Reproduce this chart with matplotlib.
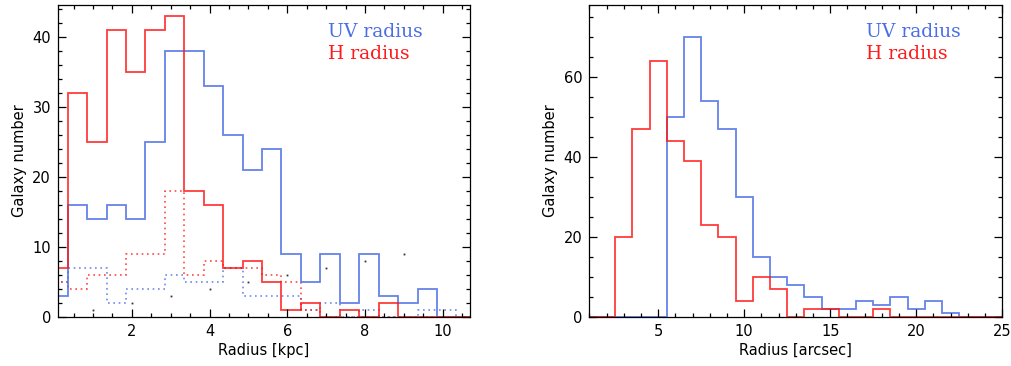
import numpy as np
import matplotlib
matplotlib.use("Agg")
import matplotlib.pyplot as plt
from matplotlib.ticker import MultipleLocator

# ---------------- data ----------------
# left panel: bins of 0.5 kpc, first bin starts at -0.15
kpc_bin_start = -0.15
kpc_bin_width = 0.5
h_kpc = [7, 32, 25, 41, 35, 41, 43, 18, 16, 7, 8, 5, 1, 2, 0, 1, 0, 2, 0, 0, 0, 0]
uv_kpc = [3, 16, 14, 16, 14, 25, 38, 38, 33, 26, 21, 24, 9, 5, 9, 2, 9, 3, 2, 4, 0, 0]
h_kpc_sub = [5, 4, 6, 6, 9, 9, 18, 6, 8, 7, 7, 6, 5, 1, 0, 0, 0, 0, 0, 0, 0, 0]
uv_kpc_sub = [5, 7, 7, 2, 4, 4, 6, 5, 5, 7, 3, 3, 3, 1, 2, 0, 1, 0, 0, 1, 1, 0]
dot_x = [1, 2, 3, 4, 5, 6, 7, 8, 9]
dot_y = [1, 2, 3, 4, 5, 6, 7, 8, 9]

# right panel: bins of 1 arcsec, first bin starts at 0.5
arc_bin_start = 0.5
arc_bin_width = 1.0
h_arc = [0, 0, 20, 47, 64, 44, 39, 23, 20, 4, 10, 7, 0, 2, 2, 0, 0, 2,
         0, 0, 0, 0, 0, 0, 0]
uv_arc = [0, 0, 0, 0, 0, 50, 70, 54, 47, 30, 15, 10, 8, 5, 2, 2, 4, 3,
          5, 2, 4, 1, 0, 0, 0]

legend_labels = ["UV radius", "H radius"]

BLUE = "#4a6ee6"
RED = "#ff1a1a"


def edges(start, width, n):
    return start + width * np.arange(n + 1)


fig = plt.figure(figsize=(10.11, 3.66), dpi=100)
ax1 = fig.add_axes([58 / 1011, 1 - 317 / 366, 412 / 1011, 312 / 366])
ax2 = fig.add_axes([589.3 / 1011, 1 - 317 / 366, 413 / 1011, 312 / 366])

# ---- left panel ----
e = edges(kpc_bin_start, kpc_bin_width, len(h_kpc))
ls_dot = (0, (1, 2.2))
ax1.stairs(uv_kpc_sub, e, color=BLUE, lw=1.2, ls=ls_dot, alpha=0.8)
ax1.stairs(h_kpc_sub, e, color=RED, lw=1.2, ls=ls_dot, alpha=0.8)
ax1.stairs(uv_kpc, e, color=BLUE, lw=1.3, alpha=0.85)
ax1.stairs(h_kpc, e, color=RED, lw=1.3, alpha=0.85)
ax1.plot(dot_x, dot_y, ls="none", marker="s", ms=1.3, color="#333333", mew=0)
ax1.set_xlim(0.1, 10.7)
ax1.set_ylim(0, 44.5)
ax1.xaxis.set_major_locator(MultipleLocator(2))
ax1.xaxis.set_minor_locator(MultipleLocator(0.5))
ax1.yaxis.set_major_locator(MultipleLocator(10))
ax1.yaxis.set_minor_locator(MultipleLocator(2))
ax1.set_xlabel("Radius [kpc]", fontsize=10.5, labelpad=3)
ax1.set_ylabel("Galaxy number", fontsize=10.5, labelpad=4)

# ---- right panel ----
e2 = edges(arc_bin_start, arc_bin_width, len(h_arc))
ax2.stairs(uv_arc, e2, color=BLUE, lw=1.3, alpha=0.85)
ax2.stairs(h_arc, e2, color=RED, lw=1.3, alpha=0.85)
ax2.set_xlim(1, 25)
ax2.set_ylim(0, 78)
ax2.xaxis.set_major_locator(MultipleLocator(5))
ax2.xaxis.set_minor_locator(MultipleLocator(1))
ax2.yaxis.set_major_locator(MultipleLocator(20))
ax2.yaxis.set_minor_locator(MultipleLocator(5))
ax2.set_xlabel("Radius [arcsec]", fontsize=10.5, labelpad=3)
ax2.set_ylabel("Galaxy number", fontsize=10.5, labelpad=4)

# ---- legend texts ----
for ax in (ax1, ax2):
    for i, (lab, col) in enumerate(zip(legend_labels, [BLUE, RED])):
        ax.text(0.655 if ax is ax1 else 0.670, 0.912 - 0.069 * i, lab,
                transform=ax.transAxes, color=col, fontsize=13.5,
                family="DejaVu Serif", va="center", ha="left")

for ax in (ax1, ax2):
    ax.tick_params(which="both", direction="in", top=True, right=True,
                   labelsize=10.5, width=0.9)
    ax.tick_params(which="major", length=6, pad=5)
    ax.tick_params(which="minor", length=3)
    for s in ax.spines.values():
        s.set_linewidth(0.9)

fig.savefig("out.png", dpi=100)
